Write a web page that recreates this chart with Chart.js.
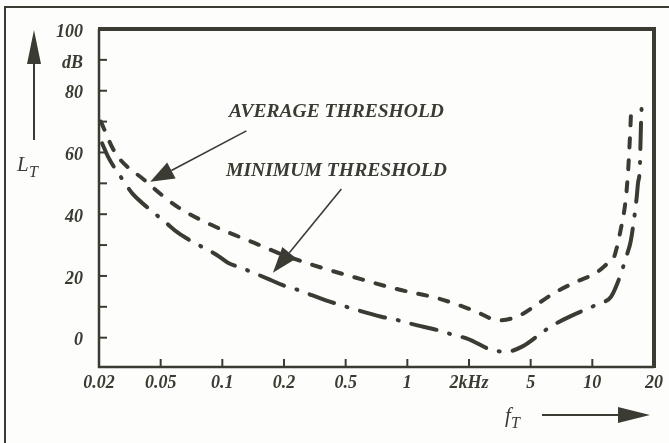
<!DOCTYPE html>
<html>
<head>
<meta charset="utf-8">
<script src="https://cdn.jsdelivr.net/npm/chart.js@4.4.0/dist/chart.umd.min.js"></script>
<style>
  html, body { margin: 0; padding: 0; background: #fdfdfb; }
  #wrap { width: 669px; height: 443px; }
</style>
</head>
<body>
<div id="wrap"><canvas id="c" width="669" height="443"></canvas></div>
<script>
// Axis labels (frequency axis is drawn with equal spacing per label, as in the original)
const FREQ_LABELS = ['0.02', '0.05', '0.1', '0.2', '0.5', '1', '2kHz', '5', '10', '20'];
const DB_TICKS = [0, 10, 20, 30, 40, 50, 60, 70, 80, 90, 100];

// Average threshold: position along the frequency axis (label index) and level in dB
const AVG_POS = [0.03, 0.26, 0.74, 1.28, 1.88, 2.52, 2.9, 3.46, 4.17, 4.82, 5.52, 6.05, 6.5, 6.84, 7.14, 7.41, 7.73, 8.06, 8.22, 8.35, 8.46, 8.54, 8.58, 8.61, 8.63];
const AVG_DB  = [70, 60, 51, 42.3, 36, 30.7, 27.5, 23.6, 19.4, 15.8, 12.6, 9, 5.6, 7.4, 11.3, 14.8, 18, 21, 23.6, 26, 35, 44.5, 54, 65, 74];

// Minimum threshold
const MIN_POS = [0.05, 0.15, 0.39, 0.55, 0.71, 1.1, 1.28, 1.47, 1.91, 2.09, 2.31, 2.77, 2.98, 3.22, 3.69, 3.9, 4.11, 4.58, 4.82, 5.06, 5.52, 5.73, 5.97, 6.41, 6.62, 6.86, 7.25, 7.43, 7.65, 8.1, 8.3, 8.41, 8.56, 8.62, 8.66, 8.72, 8.74, 8.77, 8.79, 8.8];
const MIN_DB  = [63, 58.5, 51, 46.5, 43.5, 37, 34, 31.6, 26.8, 24.3, 22.6, 18.8, 17, 15.5, 12, 10.7, 9.4, 6.8, 5.8, 4.5, 2.3, 1, -0.3, -4.2, -4.5, -2.9, 2.6, 4.8, 7, 11, 13.2, 17.8, 26.8, 31, 36, 45.6, 50, 55, 70, 75];

const INK = '#3b3b33';
const SERIF = '"Liberation Serif", "DejaVu Serif", serif';

function toPoints(xs, ys) {
  return xs.map((x, i) => ({ x: x, y: ys[i] }));
}

function drawArrow(ctx, x1, y1, x2, y2, headLen, headHalf, lineW) {
  const ang = Math.atan2(y2 - y1, x2 - x1);
  const bx = x2 - headLen * Math.cos(ang);
  const by = y2 - headLen * Math.sin(ang);
  ctx.strokeStyle = INK;
  ctx.fillStyle = INK;
  ctx.lineWidth = lineW;
  ctx.beginPath();
  ctx.moveTo(x1, y1);
  ctx.lineTo(bx, by);
  ctx.stroke();
  ctx.beginPath();
  ctx.moveTo(x2, y2);
  ctx.lineTo(bx + headHalf * Math.sin(ang), by - headHalf * Math.cos(ang));
  ctx.lineTo(bx - headHalf * Math.sin(ang), by + headHalf * Math.cos(ang));
  ctx.closePath();
  ctx.fill();
}

function fitText(ctx, text, cx, cy, width, size) {
  ctx.font = 'italic bold ' + size + 'px ' + SERIF;
  const w = ctx.measureText(text).width;
  ctx.save();
  ctx.translate(cx, cy);
  ctx.scale(width / w, 1);
  ctx.textAlign = 'center';
  ctx.textBaseline = 'middle';
  ctx.fillText(text, 0, 0);
  ctx.restore();
}

// Frame, inner tick marks, annotations and axis titles
const decorations = {
  id: 'decorations',
  afterDraw(chart) {
    const ctx = chart.ctx;
    const a = chart.chartArea;
    const xs = chart.scales.x;
    const ys = chart.scales.y;
    ctx.save();
    ctx.strokeStyle = INK;
    ctx.fillStyle = INK;

    // outer page frame
    ctx.lineWidth = 2;
    ctx.beginPath();
    ctx.moveTo(5, 443);
    ctx.lineTo(5, 7);
    ctx.lineTo(669, 7);
    ctx.stroke();

    // plot frame
    ctx.lineWidth = 4;
    ctx.beginPath();
    ctx.moveTo(a.left - 1, a.top);
    ctx.lineTo(a.right, a.top);
    ctx.lineTo(a.right, a.bottom + 1);
    ctx.stroke();
    ctx.lineWidth = 2.5;
    ctx.beginPath();
    ctx.moveTo(a.left, a.top);
    ctx.lineTo(a.left, a.bottom);
    ctx.lineTo(a.right, a.bottom);
    ctx.stroke();

    // inner ticks
    ctx.lineWidth = 2;
    DB_TICKS.slice(0, -1).forEach(v => {
      const py = ys.getPixelForValue(v);
      ctx.beginPath();
      ctx.moveTo(a.left, py);
      ctx.lineTo(a.left + 8, py);
      ctx.stroke();
    });
    FREQ_LABELS.forEach((_, i) => {
      if (i === 0 || i === FREQ_LABELS.length - 1) return;
      const px = xs.getPixelForValue(i);
      ctx.beginPath();
      ctx.moveTo(px, a.bottom);
      ctx.lineTo(px, a.bottom - 8);
      ctx.stroke();
    });

    // annotations
    fitText(ctx, 'AVERAGE THRESHOLD', xs.getPixelForValue(3.85), ys.getPixelForValue(73.1), 215, 19);
    fitText(ctx, 'MINIMUM THRESHOLD', xs.getPixelForValue(3.85), ys.getPixelForValue(54), 221, 19);
    drawArrow(ctx, xs.getPixelForValue(2.39), ys.getPixelForValue(67),
      xs.getPixelForValue(0.83), ys.getPixelForValue(50.5), 24, 9, 1.6);
    drawArrow(ctx, xs.getPixelForValue(3.93), ys.getPixelForValue(48.2),
      xs.getPixelForValue(2.82), ys.getPixelForValue(21), 26, 9, 1.6);

    // y axis title with arrow
    drawArrow(ctx, 34, 140, 34, 30, 34, 7, 2);
    ctx.textBaseline = 'alphabetic';
    ctx.textAlign = 'left';
    ctx.font = 'italic 21px ' + SERIF;
    ctx.fillText('L', 17, 171);
    ctx.font = 'italic 16px ' + SERIF;
    ctx.fillText('T', 29, 177);

    // x axis title with arrow
    ctx.font = 'italic 21px ' + SERIF;
    ctx.fillText('f', 505, 422);
    ctx.font = 'italic 16px ' + SERIF;
    ctx.fillText('T', 511, 428);
    drawArrow(ctx, 542, 415, 650, 415, 32, 8, 2);

    ctx.restore();
  }
};

const tickFont = { family: SERIF, style: 'italic', weight: 'bold', size: 18 };

new Chart(document.getElementById('c'), {
  type: 'line',
  data: {
    datasets: [
      {
        label: 'Average threshold',
        data: toPoints(AVG_POS, AVG_DB),
        borderColor: INK,
        borderWidth: 4,
        borderDash: [9, 13],
        borderCapStyle: 'round',
        cubicInterpolationMode: 'monotone',
        pointRadius: 0,
        fill: false
      },
      {
        label: 'Minimum threshold',
        data: toPoints(MIN_POS, MIN_DB),
        borderColor: INK,
        borderWidth: 4,
        borderDash: [26, 13, 1, 13],
        borderCapStyle: 'round',
        cubicInterpolationMode: 'monotone',
        pointRadius: 0,
        fill: false
      }
    ]
  },
  options: {
    responsive: false,
    animation: false,
    devicePixelRatio: 1,
    layout: { padding: { left: 0, top: 29, right: 14, bottom: 0 } },
    plugins: { legend: { display: false }, tooltip: { enabled: false } },
    scales: {
      x: {
        type: 'linear',
        min: 0,
        max: FREQ_LABELS.length - 1,
        grid: { display: false, drawTicks: false },
        border: { display: false },
        afterBuildTicks: s => { s.ticks = FREQ_LABELS.map((_, i) => ({ value: i })); },
        afterFit: s => { s.height = 76; },
        ticks: {
          color: INK,
          font: tickFont,
          padding: 6,
          maxRotation: 0,
          autoSkip: false,
          callback: v => FREQ_LABELS[v]
        }
      },
      y: {
        type: 'linear',
        min: -9.5,
        max: 100,
        grid: { display: false, drawTicks: false },
        border: { display: false },
        afterBuildTicks: s => { s.ticks = DB_TICKS.map(v => ({ value: v })); },
        afterFit: s => { s.width = 99; },
        ticks: {
          color: INK,
          font: tickFont,
          padding: 16,
          labelOffset: 3,
          autoSkip: false,
          callback: v => (v === 90 ? 'dB' : (v % 20 === 0 ? String(v) : ''))
        }
      }
    }
  },
  plugins: [decorations]
});
</script>
</body>
</html>
